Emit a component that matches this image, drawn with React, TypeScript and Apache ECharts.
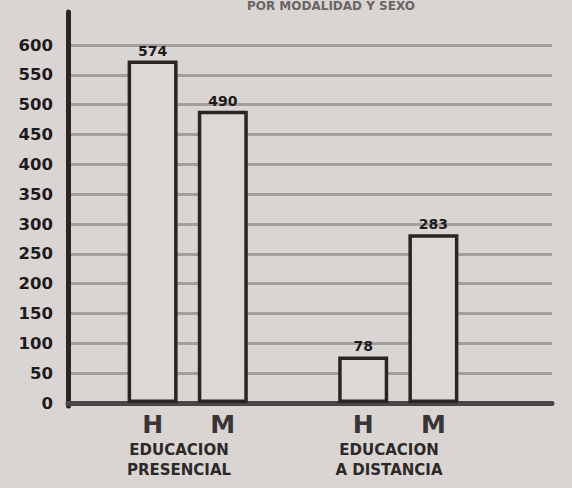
import React, { useEffect, useRef } from "react";
import * as echarts from "echarts";

const sexLabels = ["H", "M", "", "H", "M"];
const enrolled = [574, 490, null, 78, 283];
const yTicks = [0, 50, 100, 150, 200, 250, 300, 350, 400, 450, 500, 550, 600];
const groupLabels = ["EDUCACION\nPRESENCIAL", "EDUCACION\nA DISTANCIA"];
const titleText = "POR MODALIDAD Y SEXO";

export default function App() {
  const ref = useRef<HTMLDivElement>(null);
  useEffect(() => {
    document.body.style.margin = "0";
    if (!ref.current) return;
    const chart = echarts.init(ref.current, null, { renderer: "svg" });
    const ink = "#2a2425";
    chart.setOption({
      animation: false,
      backgroundColor: "#d9d5d3",
      textStyle: { fontFamily: "DejaVu Sans" },
      grid: [
        { left: 68, right: 20, top: 45, bottom: 85 },
        { left: 117.5, right: 103.5, top: 45, bottom: 85 },
        { left: 68, right: 20, top: 12, bottom: 82 },
      ],
      xAxis: [
        {
          gridIndex: 0,
          type: "value",
          min: 0,
          max: 1,
          axisLine: { show: true, lineStyle: { color: "#4a4546", width: 5 } },
          axisTick: { show: false },
          axisLabel: { show: false },
          splitLine: { show: false },
        },
        {
          gridIndex: 1,
          type: "category",
          data: sexLabels,
          axisLine: { show: false },
          axisTick: { show: false },
          axisLabel: {
            margin: 9,
            fontSize: 25,
            fontWeight: "bold",
            color: "#3a3436",
            fontFamily: "DejaVu Sans",
          },
          splitLine: { show: false },
        },
        { gridIndex: 2, type: "value", min: 0, max: 1, show: false },
      ],
      yAxis: [
        {
          gridIndex: 0,
          type: "value",
          min: yTicks[0],
          max: yTicks[yTicks.length - 1],
          interval: 50,
          axisLine: { show: false },
          axisTick: { show: false },
          axisLabel: {
            margin: 15,
            fontSize: 16.5,
            fontWeight: "bold",
            color: "#1e1a1b",
            fontFamily: "DejaVu Sans",
          },
          splitLine: { show: true, lineStyle: { color: "#a29e9d", width: 3 } },
        },
        { gridIndex: 1, type: "value", min: 0, max: 600, show: false },
        {
          gridIndex: 2,
          type: "value",
          min: 0,
          max: 1,
          axisLine: { show: true, onZero: false, lineStyle: { color: ink, width: 5 } },
          axisTick: { show: false },
          axisLabel: { show: false },
          splitLine: { show: false },
        },
      ],
      series: [
        {
          type: "bar",
          xAxisIndex: 1,
          yAxisIndex: 1,
          data: enrolled.map((v) => (v === null ? "-" : v)),
          barWidth: 50,
          itemStyle: { color: "#dcd8d6", borderColor: ink, borderWidth: 3.5 },
          label: {
            show: true,
            position: "top",
            distance: 3,
            fontSize: 14,
            fontWeight: "bold",
            color: "#1f1a1b",
            fontFamily: "DejaVu Sans",
          },
        },
      ],
      graphic: [
        {
          type: "text",
          x: 179,
          y: 440,
          style: {
            text: groupLabels[0],
            fill: "#2e2829",
            font: "bold 15px 'DejaVu Sans'",
            textAlign: "center",
            lineHeight: 20,
          },
        },
        {
          type: "text",
          x: 389,
          y: 440,
          style: {
            text: groupLabels[1],
            fill: "#2e2829",
            font: "bold 15px 'DejaVu Sans'",
            textAlign: "center",
            lineHeight: 20,
          },
        },
        {
          type: "text",
          x: 415,
          y: 0,
          style: {
            text: titleText,
            fill: "#6a6465",
            font: "bold 12px 'DejaVu Sans'",
            textAlign: "right",
          },
        },
      ],
    });
    return () => chart.dispose();
  }, []);
  return <div ref={ref} style={{ width: 572, height: 488 }} />;
}
